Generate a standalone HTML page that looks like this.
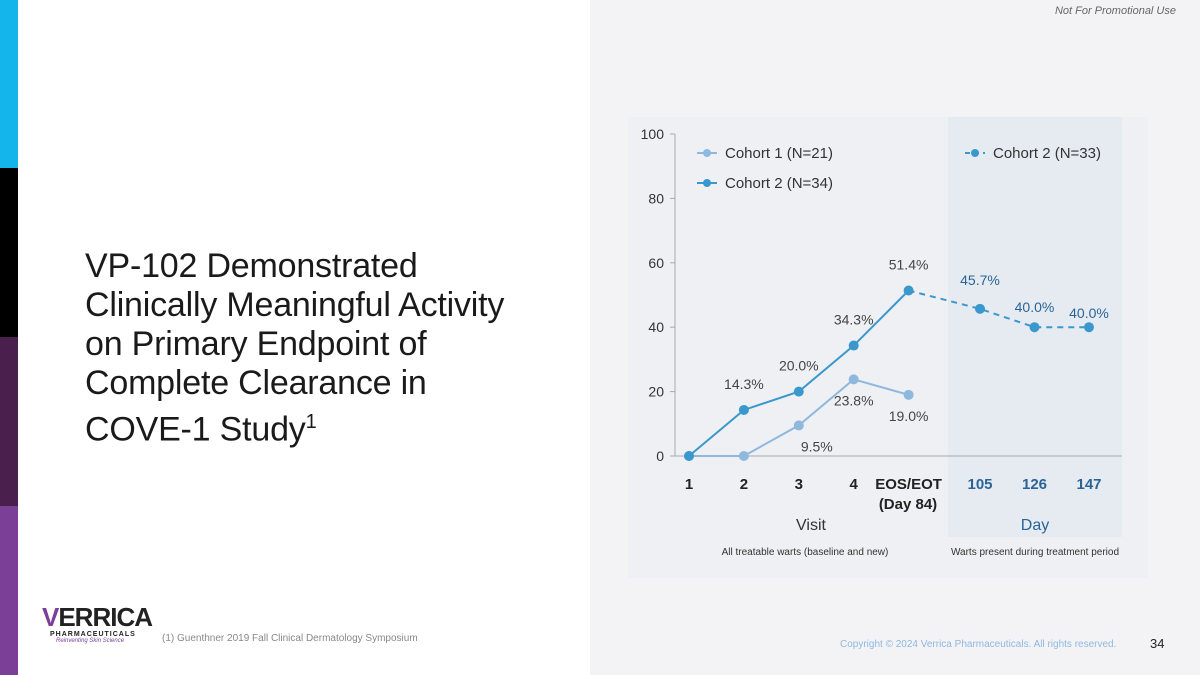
<!DOCTYPE html>
<html><head><meta charset="utf-8"><style>
body{margin:0;width:1200px;height:675px;position:relative;overflow:hidden;background:#fff;font-family:"Liberation Sans",sans-serif}
.abs{position:absolute}
</style></head><body>
<div class="abs" style="left:0;top:0;width:18px;height:168px;background:#13b5ea"></div>
<div class="abs" style="left:0;top:168px;width:18px;height:169px;background:#000"></div>
<div class="abs" style="left:0;top:337px;width:18px;height:169px;background:#4a1f4d"></div>
<div class="abs" style="left:0;top:506px;width:18px;height:169px;background:#7b3f98"></div>
<div class="abs" style="left:590px;top:0;width:610px;height:675px;background:#f3f3f5"></div>
<div class="abs" style="right:24px;top:5px;font-size:11px;font-style:italic;color:#666">Not For Promotional Use</div>
<div class="abs" style="left:85px;top:247px;font-size:34px;line-height:39px;color:#1a1a1a;letter-spacing:-0.2px">VP-102 Demonstrated<br>Clinically Meaningful Activity<br>on Primary Endpoint of<br>Complete Clearance in<br>COVE-1 Study<sup style="font-size:20px">1</sup></div>
<div class="abs" style="left:42px;top:603px;width:110px">
<div style="font-size:26px;font-weight:bold;color:#222;letter-spacing:-1px;line-height:28px"><span style="color:#7b3f98">V</span>ERRICA</div>
<div style="font-size:7px;font-weight:bold;letter-spacing:1px;color:#222;margin-left:8px">PHARMACEUTICALS</div>
<div style="font-size:6px;font-style:italic;color:#7b3f98;margin-left:14px">Reinventing Skin Science</div></div>
<div class="abs" style="left:162px;top:633px;font-size:10px;color:#888">(1) Guenthner 2019 Fall Clinical Dermatology Symposium</div>
<div class="abs" style="left:840px;top:639px;font-size:10px;color:#8fb8df">Copyright © 2024 Verrica Pharmaceuticals. All rights reserved.</div>
<div class="abs" style="left:1150px;top:636px;font-size:13px;color:#222">34</div>
<svg class="abs" style="left:0;top:0" width="1200" height="675" id="chart" font-family="Liberation Sans, sans-serif">
<rect x="628" y="117" width="520" height="461" fill="#eff0f3"/>
<rect x="948" y="117" width="174" height="420" fill="#e6ebf2"/>
</svg>
<script>
const categories=["1","2","3","4","EOS/EOT","105","126","147"];
const cohort1=[0,0,9.5,23.8,19.0];
const cohort2=[0,14.3,20.0,34.3,51.4];
const cohort2Followup=[51.4,45.7,40.0,40.0];
const yTicks=[0,20,40,60,80,100];
const c1Labels=["","","9.5%","23.8%","19.0%"];
const c2Labels=["","14.3%","20.0%","34.3%","51.4%"];
const fuLabels=["","45.7%","40.0%","40.0%"];
const svg=document.getElementById('chart');const NS='http://www.w3.org/2000/svg';
const x=i=>i<=4?689+i*54.9:980+(i-5)*54.5, y=v=>456-v*3.22;
function mk(t,a,txt){const e=document.createElementNS(NS,t);for(const k in a)e.setAttribute(k,a[k]);if(txt!==undefined)e.textContent=txt;svg.appendChild(e);return e;}
let e=mk('line',{x1:675,y1:134,x2:675,y2:456,stroke:'#aaa'});


e=mk('line',{x1:675,y1:456,x2:1122,y2:456,stroke:'#aaa'});


yTicks.forEach(v=>{mk('line',{x1:670,y1:y(v),x2:675,y2:y(v),stroke:'#aaa'});
e=mk('text',{x:664,y:y(v)+5,'text-anchor':'end','font-size':14,fill:'#333'},v);

});
categories.forEach((c,i)=>{e=mk('text',{x:x(i),y:489,'text-anchor':'middle','font-size':15,'font-weight':'bold',fill:i>4?'#2a6496':'#222'},c);

});
e=mk('text',{x:908,y:509,'text-anchor':'middle','font-size':15,'font-weight':'bold',fill:'#222'},'(Day 84)');


e=mk('text',{x:811,y:530,'text-anchor':'middle','font-size':16,fill:'#333'},'Visit');


e=mk('text',{x:1035,y:530,'text-anchor':'middle','font-size':16,fill:'#2a6496'},'Day');


e=mk('text',{x:805,y:555,'text-anchor':'middle','font-size':10,fill:'#333'},'All treatable warts (baseline and new)');


e=mk('text',{x:1035,y:555,'text-anchor':'middle','font-size':10,fill:'#333'},'Warts present during treatment period');


function series(vals,off,col,dash,name){const pts=vals.map((v,i)=>x(i+off)+','+y(v)).join(' ');
const l=mk('polyline',{points:pts,fill:'none',stroke:col,'stroke-width':2,'stroke-dasharray':dash});


vals.forEach((v,i)=>{if(off&&i===0)return;const c=mk('circle',{cx:x(i+off),cy:y(v),r:5,fill:col});

});}
series(cohort1,0,'#8fb8df','','cohort1');
series(cohort2,0,'#3a98cc','','cohort2');
series(cohort2Followup,4,'#3a98cc','6 5','cohort2-followup');
const lab=(arr,off,dy,col,name)=>arr.forEach((t,i)=>{if(!t)return;const vals=name==='c1'?cohort1:name==='c2'?cohort2:cohort2Followup;
let d=dy; if(name==='fu'&&i===2)d=-15; if(name==='fu'&&i===3)d=-9;
const e=mk('text',{x:x(i+off)+(name==='c1'&&i===2?18:0),y:y(vals[i])+d,'text-anchor':'middle','font-size':14,fill:col},t);

});
lab(c1Labels,0,26,'#444','c1');
lab(c2Labels,0,-21,'#444','c2');
lab(fuLabels,4,-24,'#2a6496','fu');
function leg(lx,ly,col,dash,txt,name){const l=mk('line',{x1:lx,y1:ly,x2:lx+20,y2:ly,stroke:col,'stroke-width':2,'stroke-dasharray':dash});


mk('circle',{cx:lx+10,cy:ly,r:4,fill:col});
const t=mk('text',{x:lx+28,y:ly+5,'font-size':15,fill:'#333'},txt);

}
leg(697,153,'#8fb8df','','Cohort 1 (N=21)','legend-cohort1');
leg(697,183,'#3a98cc','','Cohort 2 (N=34)','legend-cohort2');
leg(965,153,'#3a98cc','5 4','Cohort 2 (N=33)','legend-cohort2-followup');
</script>
</body></html>
